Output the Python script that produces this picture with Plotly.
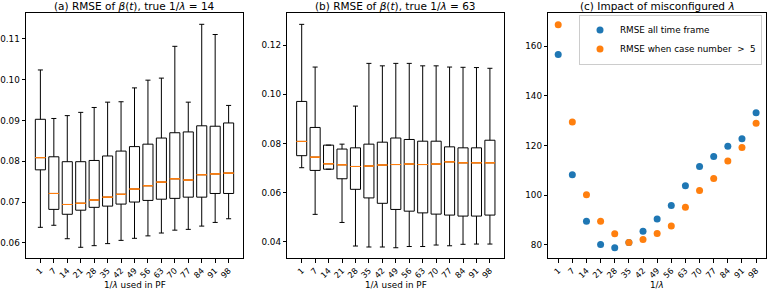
import plotly.graph_objects as go

lam_labels = ["1", "7", "14", "21", "28", "35", "42", "49", "56", "63", "70", "77", "84", "91", "98"]

# Panel (a): true 1/lambda = 14
a_lower = [0.0638, 0.0643, 0.0610, 0.0589, 0.0593, 0.0598, 0.0606, 0.0611, 0.0617, 0.0624, 0.0631, 0.0633, 0.0641, 0.0650, 0.0659]
a_q1 = [0.0779, 0.0682, 0.0670, 0.0680, 0.0687, 0.0690, 0.0695, 0.0700, 0.0704, 0.0707, 0.0709, 0.0712, 0.0712, 0.0721, 0.0721]
a_med = [0.0809, 0.0721, 0.0694, 0.0697, 0.0705, 0.0712, 0.0719, 0.0732, 0.0740, 0.0749, 0.0757, 0.0754, 0.0767, 0.0769, 0.0771]
a_q3 = [0.0903, 0.0811, 0.0799, 0.0799, 0.0802, 0.0813, 0.0825, 0.0836, 0.0842, 0.0857, 0.0870, 0.0872, 0.0887, 0.0886, 0.0894]
a_upper = [0.1024, 0.0905, 0.0912, 0.0920, 0.0932, 0.0945, 0.0946, 0.0980, 0.0999, 0.1004, 0.1082, 0.0945, 0.1136, 0.1111, 0.0937]

# Panel (b): true 1/lambda = 63
b_lower = [0.0701, 0.0511, 0.0695, 0.0478, 0.0382, 0.0378, 0.0378, 0.0375, 0.0380, 0.0380, 0.0386, 0.0383, 0.0389, 0.0390, 0.0390]
b_q1 = [0.0750, 0.0690, 0.0695, 0.0656, 0.0613, 0.0578, 0.0556, 0.0531, 0.0524, 0.0517, 0.0512, 0.0508, 0.0504, 0.0504, 0.0508]
b_med = [0.0808, 0.0744, 0.0717, 0.0713, 0.0706, 0.0708, 0.0712, 0.0714, 0.0716, 0.0714, 0.0716, 0.0725, 0.0721, 0.0721, 0.0721]
b_q3 = [0.0971, 0.0865, 0.0793, 0.0777, 0.0782, 0.0797, 0.0805, 0.0822, 0.0816, 0.0809, 0.0809, 0.0786, 0.0782, 0.0782, 0.0813]
b_upper = [0.1285, 0.1111, 0.0793, 0.0797, 0.0952, 0.1126, 0.1116, 0.1126, 0.1126, 0.1116, 0.1116, 0.1111, 0.1110, 0.1109, 0.1106]

# Panel (c): impact of misconfigured lambda
c_all = [156.6, 108.2, 89.5, 80.2, 78.8, 81.0, 85.5, 90.4, 95.8, 103.8, 111.5, 115.6, 119.7, 122.7, 133.2]
c_gt5 = [168.6, 129.5, 100.2, 89.5, 84.5, 81.0, 82.2, 84.6, 87.6, 95.1, 101.9, 106.7, 113.8, 119.2, 129.0]

W, H = 767, 290
FONT = "DejaVu Sans"
BLUE = "#1f77b4"
ORANGE = "#ff7f0e"
FS = 8.8

fig = go.Figure()

def add_boxes(xa, ya, lo, q1, med, q3, up):
    fig.add_trace(go.Box(
        x=lam_labels, q1=q1, median=med, q3=q3, lowerfence=lo, upperfence=up,
        xaxis=xa, yaxis=ya, width=0.75, whiskerwidth=0.5,
        line=dict(color="black", width=1), fillcolor="rgba(0,0,0,0)",
        boxpoints=False, showlegend=False, hoverinfo="skip"))
    fig.add_trace(go.Box(
        x=lam_labels, q1=med, median=med, q3=med, lowerfence=med, upperfence=med,
        xaxis=xa, yaxis=ya, width=0.75, whiskerwidth=0,
        line=dict(color=ORANGE, width=1), fillcolor="rgba(0,0,0,0)",
        boxpoints=False, showlegend=False, hoverinfo="skip"))

add_boxes("x", "y", a_lower, a_q1, a_med, a_q3, a_upper)
add_boxes("x2", "y2", b_lower, b_q1, b_med, b_q3, b_upper)

idx = list(range(len(lam_labels)))
fig.add_trace(go.Scatter(x=idx, y=c_all, mode="markers", xaxis="x3", yaxis="y3",
                         marker=dict(color=BLUE, size=7), name="RMSE all time frame"))
fig.add_trace(go.Scatter(x=idx, y=c_gt5, mode="markers", xaxis="x3", yaxis="y3",
                         marker=dict(color=ORANGE, size=7), name="RMSE when case number  >  5"))

ydom = [1 - 258.3 / H, 1 - 13.3 / H]
axis_common = dict(showline=True, mirror=True, linecolor="black", linewidth=1,
                   ticks="outside", ticklen=3.5, tickcolor="black", tickwidth=1,
                   showgrid=False, zeroline=False, automargin=False)
ytick = dict(tickfont=dict(family=FONT, size=FS, color="black"))
xextra = dict(tickangle=-45, ticklabelstandoff=0,
              tickfont=dict(family=FONT, size=8.2, color="black"))

fig.update_layout(
    width=W, height=H, margin=dict(l=0, r=0, t=0, b=0, autoexpand=False),
    paper_bgcolor="white", plot_bgcolor="white", boxmode="overlay",
    font=dict(family=FONT, size=FS, color="black"),
    xaxis=dict(domain=[26 / W, 243 / W], type="category", range=[-1.07, 15.07],
               anchor="y", **xextra, **axis_common),
    yaxis=dict(domain=ydom, range=[0.0562, 0.1163], tickvals=[0.06, 0.07, 0.08, 0.09, 0.10, 0.11],
               ticktext=["0.06", "0.07", "0.08", "0.09", "0.10", "0.11"], anchor="x", **ytick, **axis_common),
    xaxis2=dict(domain=[287.3 / W, 504.3 / W], type="category", range=[-1.07, 15.07],
                anchor="y2", **xextra, **axis_common),
    yaxis2=dict(domain=ydom, range=[0.0332, 0.1330], tickvals=[0.04, 0.06, 0.08, 0.10, 0.12],
                ticktext=["0.04", "0.06", "0.08", "0.10", "0.12"], anchor="x2", **ytick, **axis_common),
    xaxis3=dict(domain=[548.3 / W, 766 / W], range=[-0.7, 14.7], tickvals=idx, ticktext=lam_labels,
                anchor="y3", **xextra, **axis_common),
    yaxis3=dict(domain=ydom, range=[74.6, 173.2], tickvals=[80, 100, 120, 140, 160], anchor="x3",
                **ytick, **axis_common),
    legend=dict(x=762 / W, y=1 - 14.5 / H, xanchor="right", yanchor="top",
                bgcolor="rgba(255,255,255,0.8)", bordercolor="#cccccc", borderwidth=1,
                font=dict(family=FONT, size=FS, color="black"), itemwidth=30,
                tracegroupgap=0),
)

titles = [
    ("(a) RMSE of <i>β</i>(<i>t</i>), true 1/<i>λ</i> = 14", (26 + 243) / 2),
    ("(b) RMSE of <i>β</i>(<i>t</i>), true 1/<i>λ</i> = 63", (287.3 + 504.3) / 2),
    ("(c) Impact of misconfigured <i>λ</i>", (548.3 + 766) / 2),
]
for text, cx in titles:
    fig.add_annotation(text=text, x=cx / W, y=1 - 6.5 / H, xref="paper", yref="paper",
                       xanchor="center", yanchor="middle", showarrow=False,
                       font=dict(family=FONT, size=10.5, color="black"))

xlabels = [
    ("1/<i>λ</i> used in PF", (26 + 243) / 2),
    ("1/<i>λ</i> used in PF", (287.3 + 504.3) / 2),
    ("1/<i>λ</i>", (548.3 + 766) / 2),
]
for text, cx in xlabels:
    fig.add_annotation(text=text, x=cx / W, y=1 - 285 / H, xref="paper", yref="paper",
                       xanchor="center", yanchor="middle", showarrow=False,
                       font=dict(family=FONT, size=FS, color="black"))

fig.write_html("out.html", config={"displayModeBar": False},
               post_script="document.body.style.margin='0';")
